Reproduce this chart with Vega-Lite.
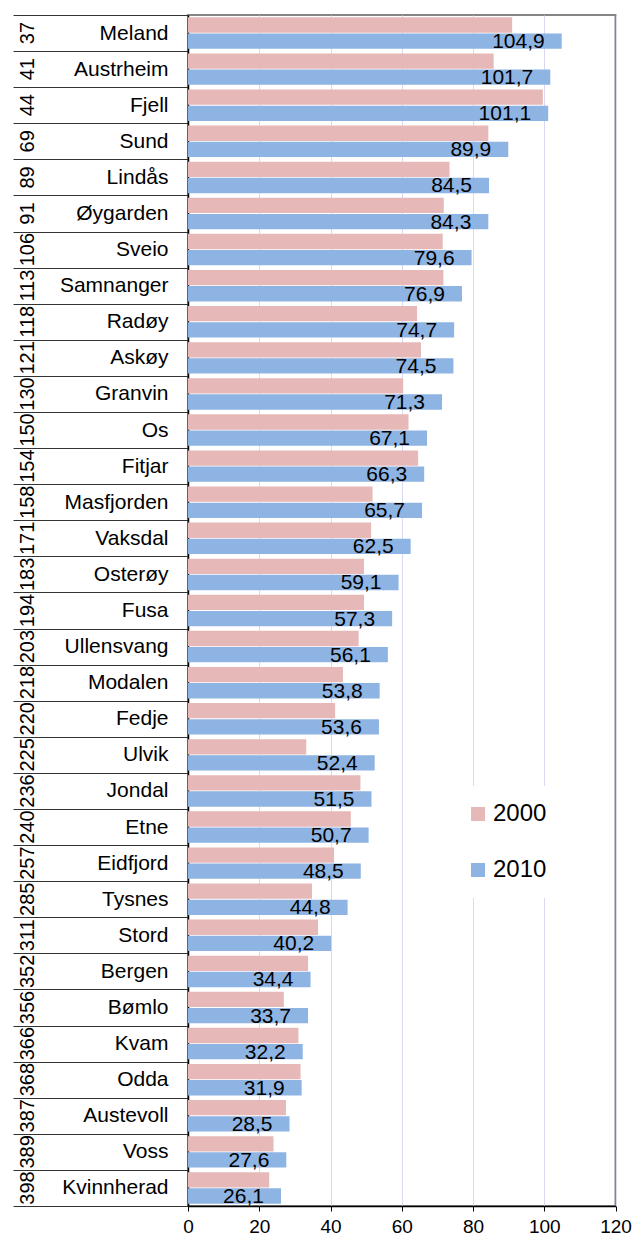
{
  "$schema": "https://vega.github.io/schema/vega-lite/v6.json",
  "width": 427.5,
  "height": 1191,
  "padding": {"left": 12, "top": 4, "right": 4, "bottom": 0},
  "config": {
    "font": "Liberation Sans",
    "locale": {"number": {"decimal": ",", "thousands": " ", "grouping": [3], "currency": ["", ""]}},
    "view": {"stroke": "#868686", "strokeWidth": 2}
  },
  "data": {
    "values": [
      {"key": "37|Meland", "year": "2000", "value": 91.0},
      {"key": "37|Meland", "year": "2010", "value": 104.9},
      {"key": "41|Austrheim", "year": "2000", "value": 85.8},
      {"key": "41|Austrheim", "year": "2010", "value": 101.7},
      {"key": "44|Fjell", "year": "2000", "value": 99.6},
      {"key": "44|Fjell", "year": "2010", "value": 101.1},
      {"key": "69|Sund", "year": "2000", "value": 84.3},
      {"key": "69|Sund", "year": "2010", "value": 89.9},
      {"key": "89|Lindås", "year": "2000", "value": 73.4},
      {"key": "89|Lindås", "year": "2010", "value": 84.5},
      {"key": "91|Øygarden", "year": "2000", "value": 71.8},
      {"key": "91|Øygarden", "year": "2010", "value": 84.3},
      {"key": "106|Sveio", "year": "2000", "value": 71.5},
      {"key": "106|Sveio", "year": "2010", "value": 79.6},
      {"key": "113|Samnanger", "year": "2000", "value": 71.7},
      {"key": "113|Samnanger", "year": "2010", "value": 76.9},
      {"key": "118|Radøy", "year": "2000", "value": 64.3},
      {"key": "118|Radøy", "year": "2010", "value": 74.7},
      {"key": "121|Askøy", "year": "2000", "value": 65.4},
      {"key": "121|Askøy", "year": "2010", "value": 74.5},
      {"key": "130|Granvin", "year": "2000", "value": 60.4},
      {"key": "130|Granvin", "year": "2010", "value": 71.3},
      {"key": "150|Os", "year": "2000", "value": 61.9},
      {"key": "150|Os", "year": "2010", "value": 67.1},
      {"key": "154|Fitjar", "year": "2000", "value": 64.6},
      {"key": "154|Fitjar", "year": "2010", "value": 66.3},
      {"key": "158|Masfjorden", "year": "2000", "value": 51.8},
      {"key": "158|Masfjorden", "year": "2010", "value": 65.7},
      {"key": "171|Vaksdal", "year": "2000", "value": 51.4},
      {"key": "171|Vaksdal", "year": "2010", "value": 62.5},
      {"key": "183|Osterøy", "year": "2000", "value": 49.4},
      {"key": "183|Osterøy", "year": "2010", "value": 59.1},
      {"key": "194|Fusa", "year": "2000", "value": 49.4},
      {"key": "194|Fusa", "year": "2010", "value": 57.3},
      {"key": "203|Ullensvang", "year": "2000", "value": 47.9},
      {"key": "203|Ullensvang", "year": "2010", "value": 56.1},
      {"key": "218|Modalen", "year": "2000", "value": 43.5},
      {"key": "218|Modalen", "year": "2010", "value": 53.8},
      {"key": "220|Fedje", "year": "2000", "value": 41.3},
      {"key": "220|Fedje", "year": "2010", "value": 53.6},
      {"key": "225|Ulvik", "year": "2000", "value": 33.2},
      {"key": "225|Ulvik", "year": "2010", "value": 52.4},
      {"key": "236|Jondal", "year": "2000", "value": 48.4},
      {"key": "236|Jondal", "year": "2010", "value": 51.5},
      {"key": "240|Etne", "year": "2000", "value": 45.7},
      {"key": "240|Etne", "year": "2010", "value": 50.7},
      {"key": "257|Eidfjord", "year": "2000", "value": 41.0},
      {"key": "257|Eidfjord", "year": "2010", "value": 48.5},
      {"key": "285|Tysnes", "year": "2000", "value": 34.8},
      {"key": "285|Tysnes", "year": "2010", "value": 44.8},
      {"key": "311|Stord", "year": "2000", "value": 36.5},
      {"key": "311|Stord", "year": "2010", "value": 40.2},
      {"key": "352|Bergen", "year": "2000", "value": 33.7},
      {"key": "352|Bergen", "year": "2010", "value": 34.4},
      {"key": "356|Bømlo", "year": "2000", "value": 26.9},
      {"key": "356|Bømlo", "year": "2010", "value": 33.7},
      {"key": "366|Kvam", "year": "2000", "value": 31.0},
      {"key": "366|Kvam", "year": "2010", "value": 32.2},
      {"key": "368|Odda", "year": "2000", "value": 31.6},
      {"key": "368|Odda", "year": "2010", "value": 31.9},
      {"key": "387|Austevoll", "year": "2000", "value": 27.5},
      {"key": "387|Austevoll", "year": "2010", "value": 28.5},
      {"key": "389|Voss", "year": "2000", "value": 24.0},
      {"key": "389|Voss", "year": "2010", "value": 27.6},
      {"key": "398|Kvinnherad", "year": "2000", "value": 22.8},
      {"key": "398|Kvinnherad", "year": "2010", "value": 26.1}
    ]
  },
  "encoding": {
    "x": {
      "field": "value",
      "type": "quantitative",
      "scale": {"domain": [0, 120], "nice": false},
      "axis": {
        "values": [0, 20, 40, 60, 80, 100, 120],
        "title": null,
        "grid": true,
        "gridColor": "#D9D9F3",
        "gridWidth": 1,
        "tickColor": "#000",
        "tickSize": 5,
        "domainColor": "#000",
        "domainWidth": 1.5,
        "labelFontSize": 19,
        "labelColor": "#000",
        "labelPadding": 6,
        "labelFlush": false
      }
    },
    "yOffset": {
      "field": "year",
      "type": "nominal",
      "scale": {"domain": ["2000", "2010"], "paddingInner": 0.05, "paddingOuter": 0.143}
    }
  },
  "layer": [
    {
      "mark": {"type": "bar"},
      "encoding": {
        "y": {
          "field": "key",
          "type": "nominal",
          "sort": null,
          "scale": {"paddingInner": 0, "paddingOuter": 0},
          "axis": {
            "orient": "left",
            "title": null,
            "grid": false,
            "labelExpr": "split(datum.label,'|')[1]",
            "tickBand": "extent",
            "tickSize": 175,
            "tickColor": "#333",
            "tickWidth": 1,
            "domainColor": "#000",
            "domainWidth": 1.5,
            "labelPadding": -155,
            "labelFontSize": 21,
            "labelColor": "#000",
            "labelAlign": "right",
            "labelBaseline": "middle",
            "labelLimit": 0
          }
        },
        "color": {
          "field": "year",
          "type": "nominal",
          "scale": {"domain": ["2000", "2010"], "range": ["#E6B9B8", "#8EB4E3"]},
          "legend": {
            "orient": "none",
            "legendX": 262,
            "legendY": 771,
            "title": null,
            "fillColor": "#ffffff",
            "padding": 16,
            "symbolType": "square",
            "symbolSize": 196,
            "symbolStrokeWidth": 0,
            "labelFontSize": 24,
            "labelColor": "#000",
            "labelOffset": 3,
            "rowPadding": 32
          }
        }
      }
    },
    {
      "transform": [{"filter": "datum.year == '2010'"}],
      "mark": {"type": "text", "align": "right", "baseline": "middle", "dx": -17, "dy": 1, "fontSize": 21, "color": "#000"},
      "encoding": {
        "y": {
          "field": "key",
          "type": "nominal",
          "sort": null,
          "axis": {
            "orient": "left",
            "title": null,
            "grid": false,
            "labelExpr": "split(datum.label,'|')[0]",
            "ticks": false,
            "tickSize": 0,
            "domain": false,
            "labelAngle": 270,
            "labelAlign": "center",
            "labelBaseline": "middle",
            "labelPadding": 161,
            "labelFontSize": 20,
            "labelColor": "#000"
          }
        },
        "text": {"field": "value", "type": "quantitative", "format": ".1f"}
      }
    }
  ],
  "resolve": {"axis": {"y": "independent"}}
}
